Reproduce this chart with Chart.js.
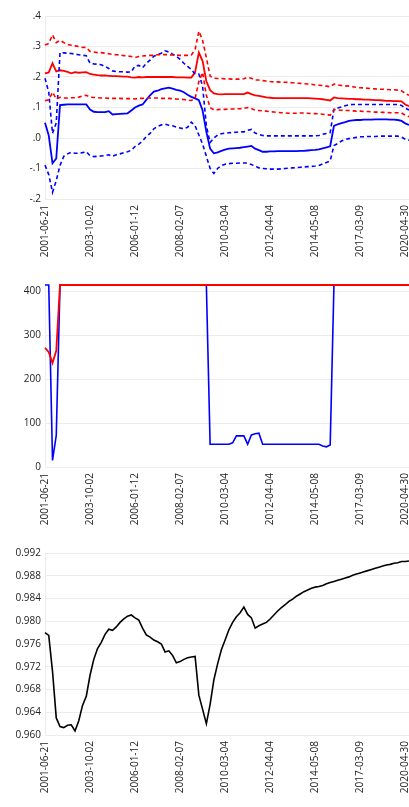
<!DOCTYPE html>
<html>
<head>
<meta charset="utf-8">
<script src="https://cdn.jsdelivr.net/npm/chart.js@4"></script>
<style>
  body { margin: 0; background: #fff; overflow: hidden; }
  canvas { position: absolute; left: 0; }
</style>
</head>
<body>
<canvas id="bandChart" width="409" height="262" style="top:0px"></canvas>
<canvas id="countChart" width="409" height="268" style="top:262px"></canvas>
<canvas id="ratioChart" width="409" height="277" style="top:530px"></canvas>
<script>
const dates = [
  "2001-06-21", "2001-08-30", "2001-11-08", "2002-01-17", "2002-03-28", "2002-06-06", "2002-08-15", "2002-10-24", "2003-01-02", "2003-03-13", "2003-05-22", "2003-07-31",
  "2003-10-02", "2003-12-11", "2004-02-19", "2004-04-29", "2004-07-08", "2004-09-16", "2004-11-25", "2005-02-03", "2005-04-14", "2005-06-23", "2005-09-01", "2005-11-03",
  "2006-01-12", "2006-03-16", "2006-05-18", "2006-07-20", "2006-09-21", "2006-11-23", "2007-01-25", "2007-03-29", "2007-05-31", "2007-08-02", "2007-10-04", "2007-12-06",
  "2008-02-07", "2008-04-10", "2008-06-12", "2008-08-14", "2008-10-16", "2008-12-18", "2009-02-19", "2009-04-23", "2009-06-25", "2009-08-27", "2009-10-29", "2009-12-31",
  "2010-03-04", "2010-05-06", "2010-07-08", "2010-09-09", "2010-11-11", "2011-01-13", "2011-03-17", "2011-05-19", "2011-07-21", "2011-09-22", "2011-11-24", "2012-01-26",
  "2012-04-04", "2012-06-07", "2012-08-09", "2012-10-11", "2012-12-13", "2013-02-14", "2013-04-18", "2013-06-20", "2013-08-22", "2013-10-24", "2013-12-26", "2014-03-06",
  "2014-05-08", "2014-08-07", "2014-10-30", "2015-01-22", "2015-04-16", "2015-07-09", "2015-10-01", "2015-12-24", "2016-03-17", "2016-06-09", "2016-09-01", "2016-11-24",
  "2017-03-09", "2017-06-15", "2017-09-21", "2017-12-28", "2018-04-05", "2018-07-12", "2018-10-18", "2019-01-24", "2019-05-02", "2019-08-08", "2019-11-14", "2020-02-20",
  "2020-04-30", "2020-07-30"
];

// top panel: red and blue estimates with their bands
const redMid = [
  0.212, 0.215, 0.245, 0.218, 0.222, 0.220, 0.217, 0.212, 0.216, 0.214, 0.215, 0.216,
  0.210, 0.208, 0.206, 0.205, 0.205, 0.204, 0.203, 0.203, 0.202, 0.201, 0.201, 0.199,
  0.198, 0.200, 0.199, 0.200, 0.200, 0.200, 0.200, 0.200, 0.200, 0.200, 0.200, 0.199,
  0.199, 0.199, 0.198, 0.198, 0.216, 0.280, 0.252, 0.186, 0.157, 0.146, 0.144, 0.143,
  0.144, 0.144, 0.144, 0.144, 0.144, 0.144, 0.149, 0.144, 0.140, 0.138, 0.136, 0.133,
  0.132, 0.131, 0.131, 0.131, 0.131, 0.131, 0.131, 0.131, 0.131, 0.131, 0.131, 0.130,
  0.129, 0.128, 0.127, 0.125, 0.123, 0.133, 0.131, 0.130, 0.129, 0.128, 0.128, 0.127,
  0.127, 0.126, 0.126, 0.125, 0.124, 0.124, 0.123, 0.122, 0.122, 0.121, 0.121, 0.120,
  0.110, 0.104
];
const redUpper = [
  0.305, 0.310, 0.338, 0.313, 0.320, 0.313, 0.307, 0.304, 0.302, 0.300, 0.297, 0.297,
  0.284, 0.282, 0.280, 0.280, 0.278, 0.276, 0.274, 0.273, 0.272, 0.270, 0.269, 0.267,
  0.264, 0.267, 0.269, 0.270, 0.271, 0.271, 0.273, 0.273, 0.274, 0.273, 0.272, 0.272,
  0.271, 0.271, 0.271, 0.272, 0.290, 0.350, 0.320, 0.263, 0.203, 0.196, 0.195, 0.195,
  0.194, 0.194, 0.193, 0.193, 0.193, 0.194, 0.199, 0.196, 0.190, 0.190, 0.188, 0.187,
  0.185, 0.184, 0.184, 0.183, 0.183, 0.182, 0.181, 0.180, 0.179, 0.178, 0.177, 0.176,
  0.174, 0.173, 0.172, 0.170, 0.168, 0.177, 0.174, 0.172, 0.171, 0.170, 0.168, 0.166,
  0.165, 0.164, 0.163, 0.162, 0.161, 0.160, 0.160, 0.159, 0.158, 0.158, 0.157, 0.155,
  0.146, 0.140
];
const redLower = [
  0.122, 0.125, 0.150, 0.128, 0.133, 0.131, 0.131, 0.132, 0.132, 0.134, 0.138, 0.140,
  0.134, 0.133, 0.132, 0.131, 0.131, 0.130, 0.130, 0.130, 0.130, 0.129, 0.129, 0.129,
  0.128, 0.130, 0.130, 0.131, 0.131, 0.131, 0.131, 0.130, 0.130, 0.130, 0.129, 0.128,
  0.127, 0.126, 0.124, 0.123, 0.130, 0.185, 0.215, 0.140, 0.100, 0.092, 0.093, 0.094,
  0.094, 0.095, 0.095, 0.096, 0.096, 0.097, 0.100, 0.097, 0.091, 0.090, 0.089, 0.088,
  0.086, 0.085, 0.084, 0.083, 0.082, 0.081, 0.081, 0.081, 0.082, 0.082, 0.081, 0.080,
  0.080, 0.079, 0.078, 0.076, 0.075, 0.093, 0.092, 0.091, 0.090, 0.090, 0.089, 0.088,
  0.088, 0.087, 0.087, 0.086, 0.085, 0.085, 0.084, 0.084, 0.083, 0.083, 0.083, 0.082,
  0.075, 0.070
];
const blueMid = [
  0.050, 0.008, -0.083, -0.067, 0.108, 0.109, 0.110, 0.110, 0.110, 0.110, 0.110, 0.110,
  0.093, 0.086, 0.085, 0.085, 0.085, 0.088, 0.077, 0.078, 0.079, 0.080, 0.081, 0.090,
  0.100, 0.106, 0.110, 0.125, 0.140, 0.152, 0.155, 0.160, 0.163, 0.165, 0.162, 0.158,
  0.155, 0.150, 0.142, 0.135, 0.130, 0.124, 0.090, 0.020, -0.035, -0.050, -0.047, -0.042,
  -0.038, -0.035, -0.034, -0.033, -0.032, -0.030, -0.028, -0.026, -0.035, -0.040, -0.045, -0.045,
  -0.044, -0.044, -0.043, -0.043, -0.043, -0.043, -0.043, -0.043, -0.042, -0.042, -0.041, -0.040,
  -0.039, -0.037, -0.034, -0.031, -0.027, 0.040, 0.045, 0.049, 0.052, 0.056, 0.058, 0.059,
  0.059, 0.060, 0.060, 0.060, 0.061, 0.061, 0.061, 0.061, 0.060, 0.060, 0.059, 0.056,
  0.048, 0.043
];
const blueUpper = [
  0.196, 0.150, 0.015, 0.050, 0.280, 0.279, 0.278, 0.277, 0.275, 0.273, 0.271, 0.270,
  0.245, 0.243, 0.242, 0.240, 0.235, 0.228, 0.220, 0.218, 0.217, 0.217, 0.216, 0.217,
  0.236, 0.238, 0.230, 0.245, 0.255, 0.268, 0.273, 0.278, 0.286, 0.282, 0.275, 0.268,
  0.258, 0.245, 0.235, 0.225, 0.210, 0.210, 0.170, 0.040, -0.015, 0.000, 0.010, 0.014,
  0.016, 0.017, 0.018, 0.019, 0.020, 0.020, 0.025, 0.028, 0.016, 0.012, 0.008, 0.007,
  0.007, 0.007, 0.007, 0.007, 0.007, 0.007, 0.007, 0.007, 0.007, 0.007, 0.007, 0.007,
  0.007, 0.008, 0.012, 0.015, 0.018, 0.094, 0.098, 0.102, 0.106, 0.109, 0.110, 0.110,
  0.110, 0.110, 0.110, 0.110, 0.110, 0.110, 0.110, 0.110, 0.110, 0.110, 0.110, 0.107,
  0.098, 0.092
];
const blueLower = [
  -0.089, -0.120, -0.178, -0.140, -0.090, -0.060, -0.052, -0.047, -0.050, -0.050, -0.048, -0.045,
  -0.058, -0.061, -0.060, -0.059, -0.058, -0.055, -0.060, -0.055, -0.052, -0.048, -0.045, -0.040,
  -0.028, -0.020, -0.010, 0.005, 0.015, 0.030, 0.038, 0.043, 0.045, 0.042, 0.040, 0.036,
  0.033, 0.030, 0.035, 0.052, 0.040, 0.010, -0.020, -0.060, -0.100, -0.116, -0.100, -0.090,
  -0.086, -0.084, -0.083, -0.083, -0.082, -0.082, -0.082, -0.087, -0.092, -0.098, -0.100, -0.101,
  -0.102, -0.102, -0.102, -0.101, -0.100, -0.099, -0.098, -0.097, -0.096, -0.095, -0.094, -0.093,
  -0.092, -0.090, -0.085, -0.080, -0.075, -0.025, -0.018, -0.010, -0.005, -0.002, 0.000, 0.002,
  0.004, 0.004, 0.005, 0.005, 0.005, 0.006, 0.006, 0.006, 0.006, 0.006, 0.006, 0.003,
  -0.004, -0.007
];

// middle panel
const blueCount = [
  415, 415, 15, 72, 415, 415, 415, 415, 415, 415, 415, 415,
  415, 415, 415, 415, 415, 415, 415, 415, 415, 415, 415, 415,
  415, 415, 415, 415, 415, 415, 415, 415, 415, 415, 415, 415,
  415, 415, 415, 415, 415, 415, 415, 415, 52, 52, 52, 52,
  52, 52, 55, 71, 71, 71, 52, 73, 76, 77, 52, 52,
  52, 52, 52, 52, 52, 52, 52, 52, 52, 52, 52, 52,
  52, 52, 48, 46, 50, 415, 415, 415, 415, 415, 415, 415,
  415, 415, 415, 415, 415, 415, 415, 415, 415, 415, 415, 415,
  415, 415
];
const redCount = [
  272, 262, 237, 265, 415, 415, 415, 415, 415, 415, 415, 415,
  415, 415, 415, 415, 415, 415, 415, 415, 415, 415, 415, 415,
  415, 415, 415, 415, 415, 415, 415, 415, 415, 415, 415, 415,
  415, 415, 415, 415, 415, 415, 415, 415, 415, 415, 415, 415,
  415, 415, 415, 415, 415, 415, 415, 415, 415, 415, 415, 415,
  415, 415, 415, 415, 415, 415, 415, 415, 415, 415, 415, 415,
  415, 415, 415, 415, 415, 415, 415, 415, 415, 415, 415, 415,
  415, 415, 415, 415, 415, 415, 415, 415, 415, 415, 415, 415,
  415, 415
];

// bottom panel
const ratio = [
  0.9780, 0.9775, 0.9712, 0.9630, 0.9615, 0.9613, 0.9617, 0.9618, 0.9607, 0.9625, 0.9652, 0.9668,
  0.9705, 0.9733, 0.9752, 0.9763, 0.9777, 0.9786, 0.9784, 0.9790, 0.9798, 0.9804, 0.9809, 0.9811,
  0.9806, 0.9802, 0.9788, 0.9776, 0.9772, 0.9767, 0.9764, 0.9760, 0.9746, 0.9748, 0.9740, 0.9727,
  0.9729, 0.9733, 0.9736, 0.9737, 0.9738, 0.9670, 0.9645, 0.9620, 0.9654, 0.9697, 0.9725, 0.9750,
  0.9767, 0.9785, 0.9798, 0.9808, 0.9815, 0.9825, 0.9812, 0.9806, 0.9788, 0.9792, 0.9795, 0.9798,
  0.9804, 0.9811, 0.9818, 0.9824, 0.9829, 0.9835, 0.9839, 0.9844, 0.9848, 0.9852, 0.9855, 0.9858,
  0.9860, 0.9861, 0.9863, 0.9866, 0.9868, 0.9870, 0.9872, 0.9874, 0.9876, 0.9878, 0.9881, 0.9883,
  0.9885, 0.9887, 0.9889, 0.9891, 0.9893, 0.9895, 0.9897, 0.9899, 0.9900, 0.9902, 0.9903, 0.9905,
  0.9905, 0.9906
];

const tickEvery = 12;
const font = { family: "Open Sans", size: 10 };

function line(data, color, dashed, width) {
  return {
    data: data,
    borderColor: color,
    borderWidth: width || 1.6,
    borderDash: dashed ? [4, 3] : [],
    pointRadius: 0,
    tension: 0,
    fill: false,
    clip: 3
  };
}

function makeOptions(yMin, yMax, step, fmt, padTop, xHeight) {
  return {
    responsive: false,
    animation: false,
    devicePixelRatio: 1,
    layout: { padding: { top: padTop, left: 0, right: 0, bottom: 0 } },
    plugins: { legend: { display: false }, tooltip: { enabled: false } },
    scales: {
      x: {
        type: "category",
        border: { display: false },
        grid: {
          drawTicks: false,
          color: ctx => (ctx.index % tickEvery === 0 ? "#ececec" : "rgba(0,0,0,0)")
        },
        ticks: {
          autoSkip: false,
          minRotation: 90,
          maxRotation: 90,
          padding: 6,
          color: "#222",
          font: font,
          callback: (val, i) => (i % tickEvery === 0 ? dates[i] : null)
        },
        afterFit: scale => {
          scale.height = xHeight;
          scale.paddingLeft = 0;
          scale.paddingRight = 0;
        }
      },
      y: {
        min: yMin,
        max: yMax,
        border: { display: false },
        grid: { drawTicks: false, color: "#ececec" },
        ticks: {
          stepSize: step,
          includeBounds: false,
          padding: 4,
          color: "#222",
          font: font,
          callback: fmt
        },
        afterFit: scale => { scale.width = 45; }
      }
    }
  };
}

function shortDec(v) {
  return v.toFixed(1).replace(/^(-?)0\./, "$1.");
}

new Chart(document.getElementById("bandChart"), {
  type: "line",
  data: {
    labels: dates,
    datasets: [
      line(redUpper, "#ff0000", true),
      line(redLower, "#ff0000", true),
      line(blueUpper, "#0000ff", true),
      line(blueLower, "#0000ff", true),
      line(redMid, "#ff0000", false, 1.8),
      line(blueMid, "#0000ff", false, 1.8)
    ]
  },
  options: makeOptions(-0.2, 0.4, 0.1, shortDec, 16, 63)
});

new Chart(document.getElementById("countChart"), {
  type: "line",
  data: {
    labels: dates,
    datasets: [
      line(redCount, "#ff0000", false, 1.8),
      line(blueCount, "#0000ff", false, 1.6)
    ]
  },
  options: makeOptions(0, 415, 100, v => v, 23, 63)
});

new Chart(document.getElementById("ratioChart"), {
  type: "line",
  data: {
    labels: dates,
    datasets: [line(ratio, "#000000", false, 1.6)]
  },
  options: makeOptions(0.96, 0.992, 0.004, v => v.toFixed(3), 23, 72)
});
</script>
</body>
</html>
